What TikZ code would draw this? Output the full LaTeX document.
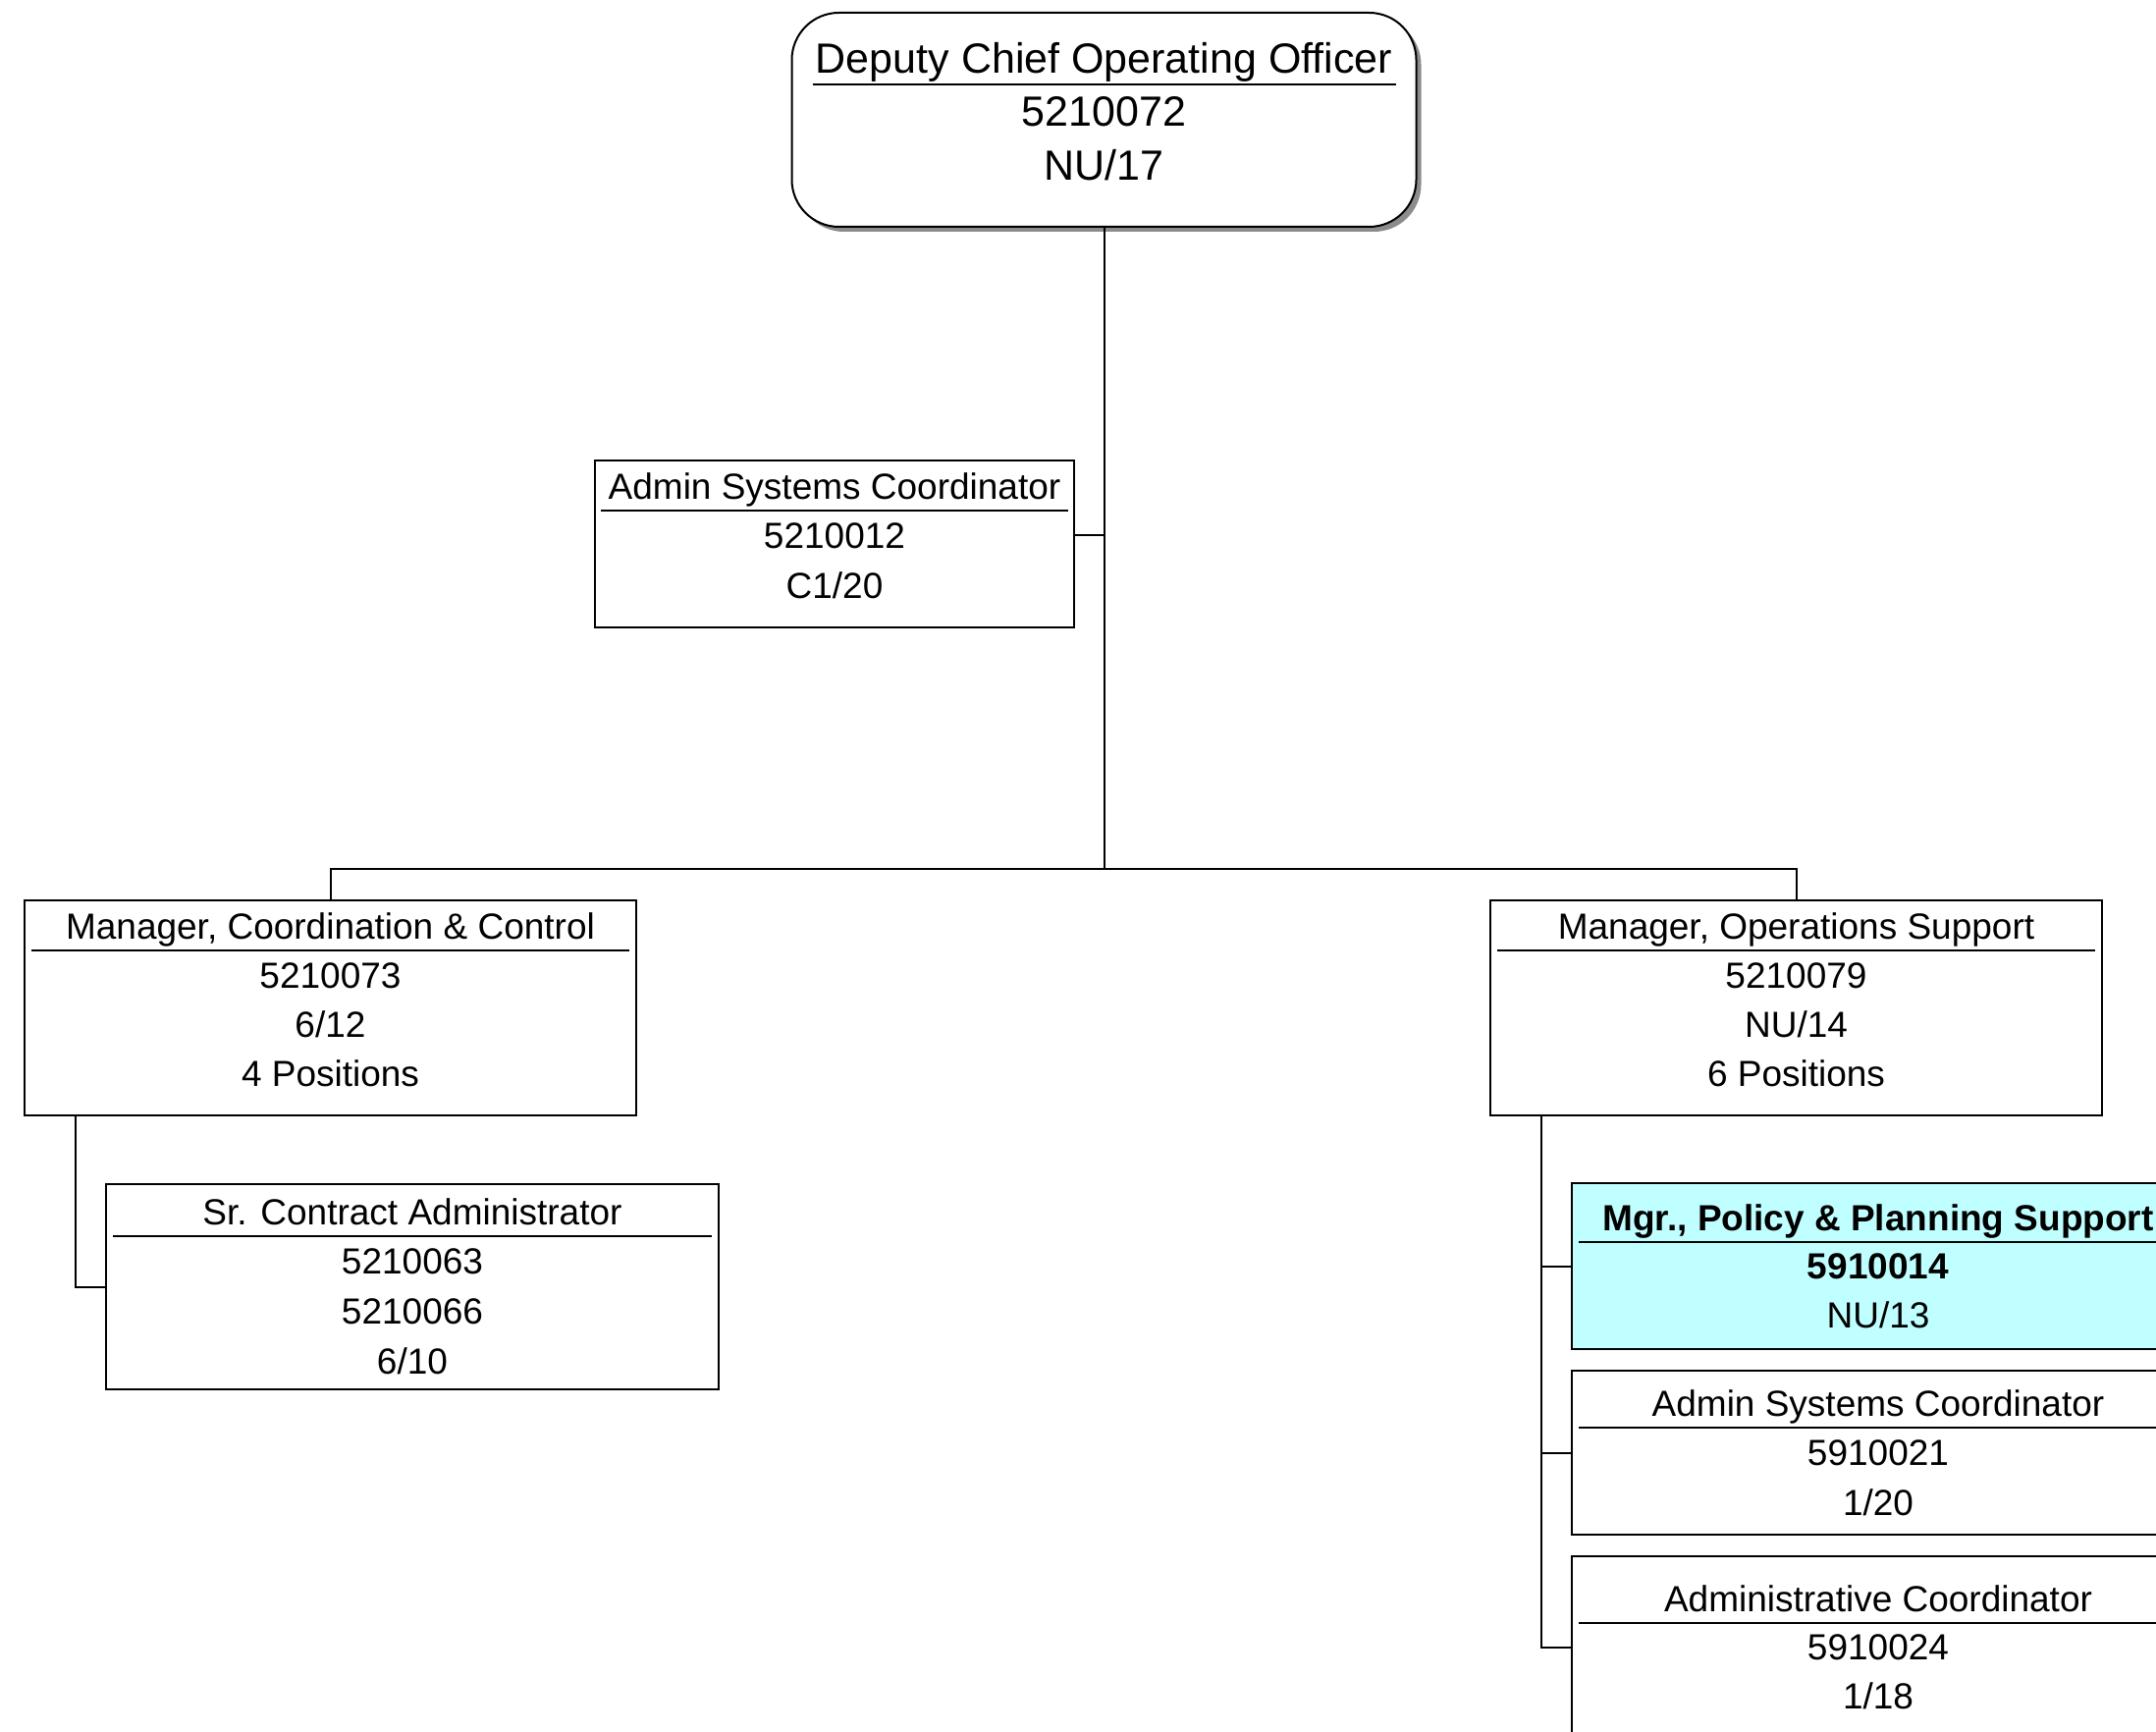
\documentclass[tikz,border=0pt]{standalone}
\usepackage{fontspec}
\setmainfont{Liberation Sans}
\usetikzlibrary{calc,shadows}
\definecolor{hilite}{HTML}{BFFFFF}
\colorlet{shadowcol}{black!45}
\newcommand{\postfont}{\fontsize{18.5}{22}\selectfont}
\newcommand{\headfont}{\fontsize{21.5}{26}\selectfont}
\tikzstyle{post}=[draw,fill=white,line width=1pt,inner sep=0pt]
\tikzstyle{posttxt}=[font=\postfont,inner sep=0pt,text height=13.2pt,text depth=0pt]
\tikzstyle{wire}=[line width=1pt]
\tikzstyle{titlerule}=[line width=1pt]
% lines of a post: node, first line offset, line gap, rule inset, lines
\newcommand{\postlines}[5]{%
  \foreach \postline [count=\i from 0] in {#5}
    \node[posttxt] (#1-\i) at ($(#1.north)+(0,#2+\i*#3)$) {\postline};
  \draw[titlerule] ($(#1.north west)+(#4,#2+#3/2)$) -- ($(#1.north east)+(-#4,#2+#3/2)$);}

\begin{document}
\begin{tikzpicture}[x=0.5pt,y=-0.5pt]
  \clip (0,0) rectangle (2196,1764);
  % Posts
  \node[post,rounded corners=24pt,minimum width=318pt,minimum height=109pt,
    drop shadow={shadow xshift=2.5pt,shadow yshift=-2.5pt,fill=shadowcol,opacity=1}]
    (dco) at (1124.5,122) {};
  \node[post,minimum width=244pt,minimum height=85pt] (asc) at (850,554) {};
  \node[post,minimum width=311.5pt,minimum height=109.5pt] (mcc) at (336.5,1026.5) {};
  \node[post,minimum width=311.5pt,minimum height=109.5pt] (mos) at (1829.5,1026.5) {};
  \node[post,minimum width=312pt,minimum height=104.5pt] (sca) at (420,1310.5) {};
  \node[post,fill=hilite,minimum width=312pt,minimum height=84.5pt] (mpp) at (1913,1289.5) {};
  \node[post,minimum width=312pt,minimum height=83.5pt] (asc2) at (1913,1479.5) {};
  \node[post,minimum width=312pt,minimum height=93pt] (adc) at (1913,1678) {};

  % Texts
  \begin{scope}[posttxt/.append style={font=\headfont,text height=15.4pt}]
    \postlines{dco}{47}{54.5}{22}{Deputy Chief Operating Officer,5210072,NU/17}
  \end{scope}
  \postlines{asc}{27}{50.5}{7}{Admin Systems Coordinator,5210012,C1/20}
  \postlines{mcc}{27}{50}{8}{{Manager, Coordination \& Control},5210073,6/12,4 Positions}
  \postlines{mos}{27}{50}{8}{{Manager, Operations Support},5210079,NU/14,6 Positions}
  \postlines{sca}{29}{50.7}{8}{Sr. Contract Administrator,5210063,5210066,6/10}
  \postlines{mpp}{36}{49.5}{8}{{\textbf{Mgr., Policy \& Planning Support}},\textbf{5910014},NU/13}
  \postlines{asc2}{34}{50.5}{8}{Admin Systems Coordinator,5910021,1/20}
  \postlines{adc}{44}{49.5}{8}{Administrative Coordinator,5910024,1/18}

  % Connectors
  \coordinate (bus) at (1124.5,885);
  \coordinate (mccdrop) at ($(mcc.south west)+(53,0)$);
  \coordinate (mosdrop) at ($(mos.south west)+(53,0)$);
  \draw[wire] (dco.south) -- (bus);
  \draw[wire] (mcc.north) |- (bus) -| (mos.north);
  \draw[wire] (asc-1 -| asc.east) -- (asc-1 -| bus);
  \draw[wire] (mccdrop) |- (sca.west);
  \draw[wire] (mosdrop) |- (adc.west);
  \foreach \n in {mpp,asc2}
    \draw[wire] (mosdrop |- \n.west) -- (\n.west);
\end{tikzpicture}
\end{document}
